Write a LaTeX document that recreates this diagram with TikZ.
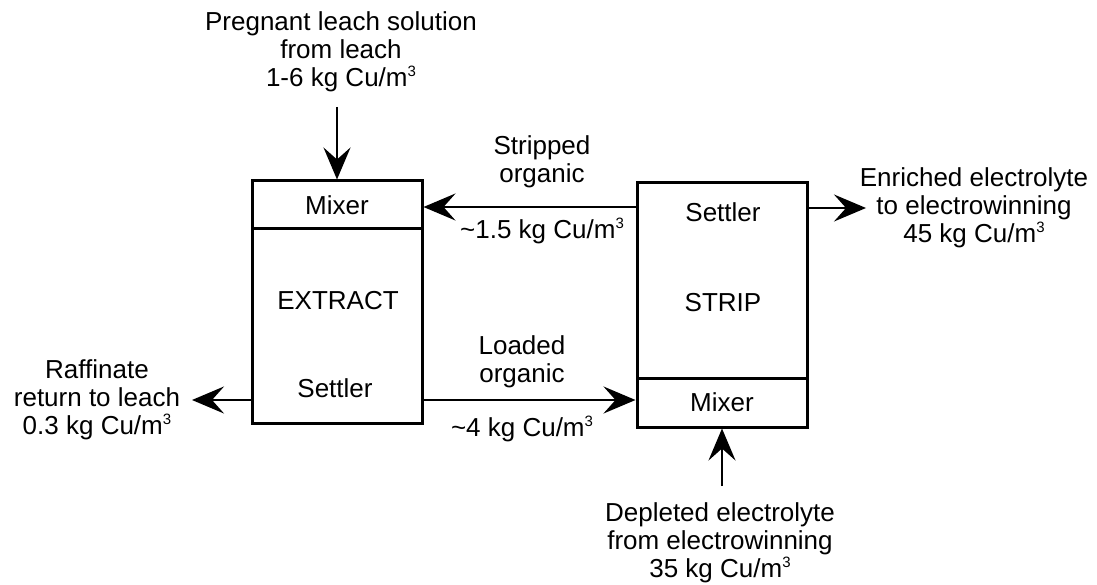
\documentclass[tikz,border=0pt]{standalone}
\usepackage{fontspec}
\setmainfont{Liberation Sans}
\usetikzlibrary{arrows.meta}
\newcommand{\cubed}{\raisebox{0.38em}[0pt][0pt]{\fontsize{15}{15}\selectfont 3}}
\begin{document}
\begin{tikzpicture}[x=1pt,y=-1pt,
  every node/.style={font=\fontsize{26}{28}\selectfont, inner sep=0pt},
  lbl/.style={align=center},
  unitbox/.style={draw, line width=3pt, minimum width=170pt, inner sep=0pt},
  flow/.style={line width=2.3pt, -{Stealth[length=32pt,width=27pt,inset=12pt]}}
]
\useasboundingbox (0,0) rectangle (1097,585);

% EXTRACT unit
\node[unitbox, minimum height=48pt] (emix) at (337,205) {Mixer};
\node[unitbox, minimum height=194pt] (ebody) at (337,326) {};
\node (etitle) at (338,301) {EXTRACT};
\node (esettler) at (335,388) {Settler};

% STRIP unit
\node[unitbox, minimum height=195pt] (sbody) at (722,280.5) {};
\node[unitbox, minimum height=49pt] (smix) at (722,402.5) {Mixer};
\node (ssettler) at (723,212) {Settler};
\node (stitle) at (723,303) {STRIP};

% labels
\node[lbl] (preg) at (341,52) {Pregnant leach solution\\from leach\\1-6 kg Cu/m\cubed};
\node[lbl] (strip) at (542,162) {Stripped\\organic};
\node (stripc) at (542,232) {\textasciitilde1.5 kg Cu/m\cubed};
\node[lbl] (load) at (522,362) {Loaded\\organic};
\node (loadc) at (522,430) {\textasciitilde4 kg Cu/m\cubed};
\node[lbl] (raff) at (97,400) {Raffinate\\return to leach\\0.3 kg Cu/m\cubed};
\node[lbl] (enr) at (974,208) {Enriched electrolyte\\to electrowinning\\45 kg Cu/m\cubed};
\node[lbl] (depl) at (720,543) {Depleted electrolyte\\from electrowinning\\35 kg Cu/m\cubed};

% free ends
\coordinate (pregend) at (emix.north |- 0,107);
\coordinate (raffend) at (192,400);
\coordinate (enrend) at (866,208);
\coordinate (deplend) at (smix.south |- 0,486);

% flows
\draw[flow] (pregend) -- (emix.north);
\draw[flow] (sbody.west |- 0,207) -- (emix.east |- 0,207);
\draw[flow] (ebody.east |- 0,400) -- (smix.west |- 0,400);
\draw[flow] (ebody.west |- 0,400) -- (raffend);
\draw[flow] (sbody.east |- 0,208) -- (enrend);
\draw[flow] (deplend) -- (smix.south);
\end{tikzpicture}
\end{document}
